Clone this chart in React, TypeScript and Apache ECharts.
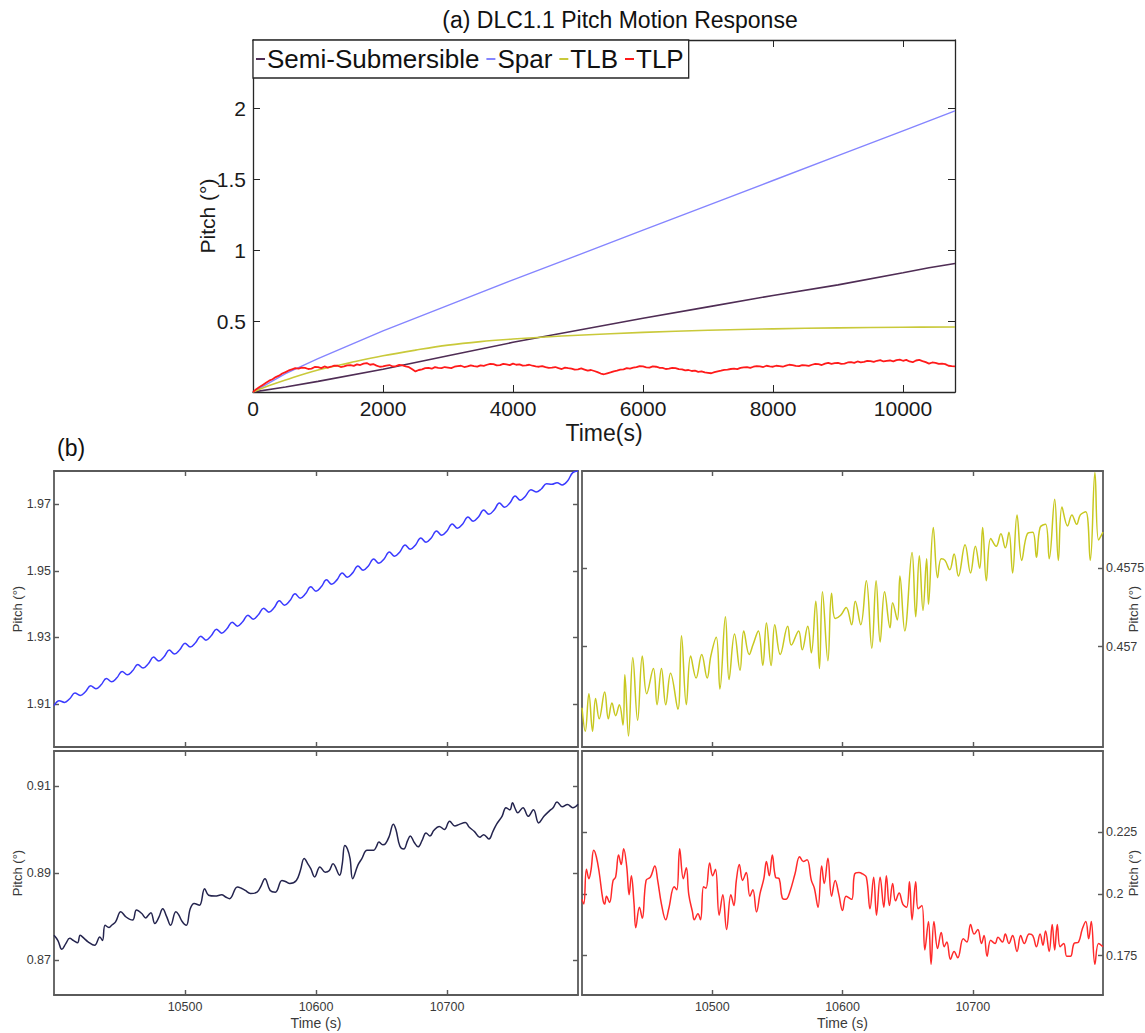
import React, { useEffect, useRef } from "react";
import * as echarts from "echarts";

const FONT = "'Liberation Sans', Arial, Helvetica, sans-serif";

// ---- (a) full 3-hour pitch histories: [time (s), pitch (deg)] ----
const semiSubmersible: [number, number][] = [
  [0, 0], [500, 0.035], [1000, 0.075], [2000, 0.16], [3000, 0.255], [4000, 0.35],
  [5000, 0.435], [6000, 0.52], [7000, 0.6], [8000, 0.68], [9000, 0.755],
  [10000, 0.84], [10400, 0.875], [10800, 0.905],
];

const spar: [number, number][] = [
  [0, 0], [500, 0.13], [1000, 0.235], [2000, 0.43], [3000, 0.61], [4000, 0.79],
  [5000, 0.965], [6000, 1.14], [7000, 1.315], [8000, 1.49], [9000, 1.665],
  [10000, 1.84], [10400, 1.91], [10800, 1.98],
];

const tlb: [number, number][] = [
  [0, 0], [250, 0.045], [500, 0.085], [1000, 0.155], [1500, 0.207], [2000, 0.255],
  [2500, 0.295], [3000, 0.33], [3500, 0.355], [4000, 0.373], [4500, 0.388],
  [5000, 0.4], [6000, 0.42], [7000, 0.435], [8000, 0.445], [9000, 0.452],
  [10000, 0.456], [10800, 0.458],
];

// TLP, sampled every 50 s
const tlpStep = 50;
const tlp: number[] = [
  0, 0.02, 0.035, 0.05, 0.065, 0.08, 0.09, 0.105, 0.115, 0.13, 0.14, 0.152, 0.16, 0.168, 0.165, 0.172,
  0.17, 0.162, 0.165, 0.176, 0.175, 0.168, 0.18, 0.172, 0.178, 0.186, 0.185, 0.176, 0.18, 0.188,
  0.19, 0.184, 0.195, 0.19, 0.2, 0.204, 0.192, 0.197, 0.186, 0.178, 0.18, 0.186, 0.19, 0.18,
  0.182, 0.191, 0.188, 0.18, 0.175, 0.16, 0.145, 0.155, 0.16, 0.168, 0.17, 0.164, 0.175, 0.17,
  0.168, 0.176, 0.172, 0.168, 0.178, 0.183, 0.185, 0.176, 0.18, 0.187, 0.182, 0.179, 0.188,
  0.184, 0.192, 0.198, 0.196, 0.188, 0.19, 0.198, 0.194, 0.189, 0.2, 0.192, 0.195, 0.186,
  0.188, 0.192, 0.185, 0.18, 0.178, 0.183, 0.176, 0.17, 0.172, 0.176, 0.168, 0.162, 0.172,
  0.168, 0.165, 0.158, 0.16, 0.166, 0.158, 0.15, 0.155, 0.148, 0.14, 0.13, 0.125, 0.132,
  0.138, 0.146, 0.15, 0.157, 0.16, 0.168, 0.165, 0.171, 0.175, 0.183, 0.18, 0.174, 0.172,
  0.18, 0.178, 0.171, 0.17, 0.162, 0.165, 0.17, 0.168, 0.161, 0.16, 0.152, 0.155, 0.148,
  0.15, 0.142, 0.145, 0.138, 0.135, 0.132, 0.14, 0.146, 0.15, 0.156, 0.158, 0.162, 0.165,
  0.161, 0.17, 0.174, 0.175, 0.17, 0.178, 0.183, 0.18, 0.176, 0.185, 0.181, 0.178, 0.185,
  0.182, 0.178, 0.186, 0.192, 0.19, 0.184, 0.182, 0.19, 0.188, 0.184, 0.192, 0.198, 0.196,
  0.19, 0.2, 0.205, 0.198, 0.203, 0.205, 0.198, 0.2, 0.208, 0.21, 0.205, 0.215, 0.209,
  0.212, 0.219, 0.218, 0.212, 0.22, 0.224, 0.215, 0.219, 0.222, 0.216, 0.225, 0.228, 0.22,
  0.226, 0.215, 0.21, 0.222, 0.226, 0.218, 0.21, 0.2, 0.208, 0.205, 0.198, 0.2, 0.196,
  0.185, 0.182, 0.18,
];

// ---- (b) last 400 s of each response ----
// Spar, sampled every 4 s from 10400 s
const windowStart = 10400;
const sparStep = 4;
const sparWindow: number[] = [
  1.9095, 1.911, 1.9105, 1.9116, 1.9133, 1.9126, 1.9137, 1.9155, 1.9146, 1.9158,
  1.9177, 1.9167, 1.9179, 1.9198, 1.9188, 1.92, 1.9219, 1.9208, 1.9221, 1.9241,
  1.9229, 1.9242, 1.9262, 1.925, 1.9263, 1.9283, 1.9271, 1.9284, 1.9304, 1.9292,
  1.9305, 1.9325, 1.9313, 1.9326, 1.9346, 1.9334, 1.9347, 1.9367, 1.9355, 1.9368,
  1.9388, 1.9376, 1.9389, 1.941, 1.9397, 1.941, 1.9431, 1.9418, 1.9431, 1.9452,
  1.9439, 1.9452, 1.9473, 1.946, 1.9473, 1.9494, 1.9481, 1.9494, 1.9515, 1.9502,
  1.9515, 1.9536, 1.9523, 1.9536, 1.9557, 1.9544, 1.9557, 1.9578, 1.9565, 1.9578,
  1.9599, 1.9586, 1.9599, 1.962, 1.9607, 1.962, 1.9641, 1.9628, 1.9641, 1.9662,
  1.9649, 1.9662, 1.9683, 1.967, 1.9683, 1.9704, 1.9691, 1.9704, 1.9725, 1.9712,
  1.9725, 1.9744, 1.9737, 1.9746, 1.9762, 1.976, 1.9765, 1.9758, 1.977, 1.9795,
  1.98,
];

const tlbWindow: [number, number][] = [
  [10400.0, 0.45661], [10402.5, 0.45646], [10405.3, 0.4567], [10408.1, 0.45646],
  [10410.4, 0.45667], [10413.2, 0.45654], [10417.4, 0.45671], [10420.2, 0.45654],
  [10423.0, 0.45664], [10425.8, 0.45656], [10428.7, 0.45663], [10431.5, 0.4565],
  [10432.9, 0.45682], [10435.7, 0.45643], [10439.0, 0.45693], [10442.7, 0.45653],
  [10446.3, 0.45694], [10449.7, 0.4567], [10454.8, 0.45686], [10457.6, 0.45663],
  [10461.0, 0.45686], [10464.3, 0.45663], [10468.0, 0.45683], [10473.6, 0.4566],
  [10476.4, 0.45707], [10480.1, 0.45663], [10483.4, 0.45694], [10487.6, 0.4568],
  [10491.9, 0.45695], [10496.1, 0.4568], [10498.9, 0.45694], [10503.1, 0.45706],
  [10505.9, 0.45673], [10510.1, 0.45719], [10512.9, 0.45679], [10517.1, 0.45708],
  [10521.3, 0.45685], [10524.2, 0.4571], [10528.4, 0.45695], [10531.2, 0.45701],
  [10535.4, 0.4571], [10538.8, 0.45688], [10541.6, 0.45715], [10545.2, 0.45688],
  [10548.0, 0.45714], [10552.2, 0.45695], [10557.9, 0.45713], [10560.7, 0.45701],
  [10566.3, 0.4571], [10569.1, 0.45698], [10573.3, 0.45713], [10576.1, 0.45696],
  [10579.5, 0.45729], [10582.3, 0.45686], [10584.6, 0.45735], [10588.8, 0.45691],
  [10591.6, 0.45734], [10594.4, 0.45718], [10598.6, 0.4572], [10602.8, 0.45725],
  [10607.0, 0.45714], [10609.8, 0.45729], [10614.0, 0.45714], [10618.3, 0.45742],
  [10622.5, 0.45699], [10625.8, 0.45742], [10628.9, 0.45703], [10632.3, 0.45735],
  [10636.5, 0.45712], [10638.5, 0.45728], [10642.1, 0.45717], [10644.1, 0.45745],
  [10647.8, 0.4571], [10653.4, 0.4576], [10656.2, 0.45719], [10659.0, 0.45758],
  [10661.8, 0.45723], [10664.6, 0.45756], [10666.0, 0.45727], [10669.7, 0.45776],
  [10673.0, 0.45744], [10675.8, 0.45756], [10678.7, 0.45755], [10682.3, 0.45749],
  [10685.7, 0.45759], [10689.0, 0.45745], [10694.1, 0.45765], [10698.3, 0.45747],
  [10702.0, 0.45764], [10705.3, 0.4575], [10707.6, 0.45776], [10710.4, 0.45742],
  [10713.8, 0.45769], [10718.0, 0.45764], [10721.6, 0.45772], [10725.0, 0.45763],
  [10727.8, 0.45773], [10730.6, 0.45747], [10734.0, 0.45784], [10737.6, 0.45755],
  [10741.9, 0.45772], [10746.1, 0.45773], [10748.9, 0.45757], [10751.7, 0.45776],
  [10755.9, 0.45778], [10758.7, 0.45756], [10762.9, 0.45794], [10765.7, 0.45755],
  [10768.5, 0.45789], [10772.8, 0.45777], [10776.1, 0.45784], [10779.8, 0.45778],
  [10782.6, 0.45784], [10786.8, 0.45786], [10790.2, 0.45755], [10793.8, 0.45811],
  [10796.6, 0.45768], [10800.0, 0.45773],
];

const semiSubWindow: [number, number][] = [
  [10400, 0.8757], [10403, 0.8745], [10406, 0.8725], [10409, 0.8738], [10412, 0.875],
  [10415, 0.8745], [10418, 0.874], [10420, 0.8757], [10423, 0.875], [10426, 0.8742],
  [10431, 0.8734], [10435, 0.8753], [10437, 0.8745], [10439, 0.878], [10442, 0.8775],
  [10444, 0.878], [10447, 0.8788], [10451, 0.8811], [10455, 0.8799], [10460, 0.8792],
  [10463, 0.8815], [10467, 0.8807], [10470, 0.8797], [10472, 0.8803], [10474, 0.8809],
  [10477, 0.8784], [10480, 0.8798], [10483, 0.8818], [10486, 0.88], [10489, 0.878],
  [10493, 0.8811], [10495, 0.8805], [10498, 0.8788], [10501, 0.878], [10504, 0.8818],
  [10507, 0.883], [10511, 0.8826], [10515, 0.8864], [10518, 0.8849], [10523, 0.8847],
  [10528, 0.885], [10531, 0.8845], [10534, 0.8841], [10540, 0.8868], [10543, 0.8865],
  [10546, 0.886], [10550, 0.8853], [10555, 0.8856], [10558, 0.887], [10561, 0.8887],
  [10565, 0.886], [10569, 0.8856], [10574, 0.8883], [10577, 0.888], [10580, 0.8876],
  [10585, 0.8883], [10588, 0.8905], [10591, 0.8933], [10594, 0.892], [10596, 0.891],
  [10599, 0.8891], [10603, 0.8914], [10607, 0.8902], [10610, 0.8905], [10613, 0.8921],
  [10618, 0.8895], [10620, 0.892], [10622, 0.8963], [10624, 0.8955], [10626, 0.8933],
  [10628, 0.8887], [10632, 0.8918], [10635, 0.8933], [10639, 0.8952], [10644, 0.8952],
  [10646, 0.896], [10648, 0.8971], [10651, 0.8965], [10653, 0.8967], [10656, 0.8985],
  [10659, 0.9012], [10661, 0.9], [10664, 0.8962], [10667, 0.8955], [10670, 0.8975],
  [10672, 0.8985], [10675, 0.897], [10678, 0.896], [10681, 0.8975], [10684, 0.8992],
  [10687, 0.8985], [10690, 0.8998], [10694, 0.9007], [10698, 0.9], [10702, 0.9019],
  [10706, 0.9008], [10709, 0.9011], [10714, 0.9016], [10717, 0.9005], [10721, 0.8995],
  [10725, 0.8982], [10728, 0.8988], [10732, 0.8978], [10735, 0.8995], [10738, 0.9013],
  [10742, 0.903], [10745, 0.905], [10748, 0.9045], [10750, 0.9061], [10752, 0.9048],
  [10754, 0.9038], [10758, 0.905], [10762, 0.903], [10766, 0.9045], [10770, 0.9015],
  [10774, 0.903], [10778, 0.9042], [10781, 0.905], [10784, 0.9063], [10788, 0.9052],
  [10792, 0.9057], [10796, 0.905], [10800, 0.9058],
];

const tlpWindow: [number, number][] = [
  [10400, 0.1978], [10401.4, 0.1959], [10403.4, 0.21], [10405.3, 0.2062], [10407, 0.21],
  [10409, 0.2177], [10411, 0.2151], [10413.2, 0.2087], [10416, 0.1978], [10417.4, 0.1959],
  [10418.8, 0.1991], [10421.1, 0.1965], [10423.9, 0.2055], [10425.8, 0.2068], [10428.1, 0.2158],
  [10430.1, 0.2119], [10432, 0.2183], [10434.3, 0.2113], [10436.2, 0.1997], [10437.9, 0.2074],
  [10439.9, 0.1965], [10441.3, 0.1863], [10444.1, 0.1946], [10446.3, 0.1901], [10449.2, 0.2055],
  [10452.5, 0.2068], [10455.9, 0.2113], [10458.1, 0.2055], [10461, 0.1959], [10464.3, 0.1895],
  [10466.6, 0.194], [10470.8, 0.2029], [10472.8, 0.2017], [10475, 0.2183], [10477.8, 0.2062],
  [10480.1, 0.2106], [10482, 0.1997], [10484.8, 0.1927], [10486.2, 0.1895], [10489, 0.192],
  [10491, 0.1895], [10493.3, 0.2029], [10495.2, 0.2023], [10498, 0.2126], [10500.3, 0.2074],
  [10502.5, 0.21], [10505.3, 0.1914], [10508.1, 0.1997], [10511, 0.1856], [10514.3, 0.1997],
  [10516.6, 0.1953], [10518.5, 0.2055], [10520.8, 0.2119], [10523.3, 0.2055], [10526.1, 0.2087],
  [10528.9, 0.1991], [10531.2, 0.2017], [10534, 0.1927], [10536.8, 0.2004], [10539.6, 0.2062],
  [10541.6, 0.2132], [10543.8, 0.2074], [10546.1, 0.2158], [10548.6, 0.2068], [10551.4, 0.2062],
  [10553.7, 0.1985], [10556.5, 0.1978], [10559.3, 0.2004], [10563.5, 0.2081], [10567.1, 0.2151],
  [10569.9, 0.2132], [10572.8, 0.2139], [10576.1, 0.2055], [10578.4, 0.2023], [10581.2, 0.1946],
  [10584, 0.2113], [10586, 0.2042], [10588.8, 0.2145], [10591.6, 0.1991], [10594.4, 0.2055],
  [10597.2, 0.1997], [10600, 0.1933], [10602.8, 0.1991], [10607, 0.1978], [10609.3, 0.2081],
  [10612.6, 0.2087], [10615.4, 0.2081], [10618.3, 0.2068], [10621.1, 0.194], [10623.9, 0.2068],
  [10626.1, 0.1914], [10628.9, 0.2068], [10631.7, 0.1946], [10633.7, 0.2074], [10636, 0.1953],
  [10638.5, 0.2042], [10640.7, 0.1972], [10643.5, 0.2004], [10646.3, 0.1959], [10649.2, 0.1946],
  [10651.4, 0.2049], [10653.4, 0.1895], [10656.2, 0.2049], [10658.1, 0.194], [10661, 0.1953],
  [10663.2, 0.1773], [10666, 0.1888], [10668, 0.1715], [10670.2, 0.1888], [10673, 0.1779],
  [10675.8, 0.1844], [10678.1, 0.1786], [10680.1, 0.1805], [10682.9, 0.1735], [10685.7, 0.1767],
  [10688.5, 0.1741], [10692.7, 0.1818], [10695.5, 0.1805], [10698.3, 0.1876], [10701.1, 0.1837],
  [10703.9, 0.1856], [10706.7, 0.1799], [10708.7, 0.1831], [10711, 0.1747], [10713.8, 0.1812],
  [10717.1, 0.1799], [10719.4, 0.1824], [10722.8, 0.1805], [10725, 0.1837], [10727.8, 0.1799],
  [10730.6, 0.1831], [10734, 0.1767], [10736.8, 0.1831], [10739.6, 0.1799], [10743.3, 0.1837],
  [10746.1, 0.1831], [10748.9, 0.1786], [10751.7, 0.1837], [10753.9, 0.1792], [10755.9, 0.185],
  [10758.7, 0.1767], [10761, 0.1876], [10762.9, 0.1773], [10764.9, 0.1876], [10767.1, 0.1786],
  [10769.9, 0.1799], [10772.2, 0.1747], [10775, 0.1747], [10777.8, 0.1799], [10781.2, 0.1805],
  [10784, 0.1856], [10786.8, 0.1888], [10789, 0.1818], [10791, 0.1888], [10793.8, 0.1715],
  [10796.6, 0.1799], [10800, 0.1786],
];

// ---- tick positions ----
const topTimeTicks = [0, 2000, 4000, 6000, 8000, 10000];
const topPitchTicks = [0.5, 1, 1.5, 2];
const windowTimeTicks = [10500, 10600, 10700];
const sparPitchTicks = [1.91, 1.93, 1.95, 1.97];
const tlbPitchTicks = [0.457, 0.4575];
const semiPitchTicks = [0.87, 0.89, 0.91];
const tlpPitchTicks = [0.175, 0.2, 0.225];

const SERIES_NAMES = ["Semi-Submersible", "Spar", "TLB", "TLP"];

type AxisStyle = {
  line: string;
  lineWidth: number;
  label: string;
  fontSize: number;
  tickLen: number;
  xMargin: number;
  yMargin: number;
};

const topStyle: AxisStyle = {
  line: "#262626", lineWidth: 1.3, label: "#1a1a1a", fontSize: 21, tickLen: 7, xMargin: 6, yMargin: 7,
};
const winStyle: AxisStyle = {
  line: "#5a5a5a", lineWidth: 1.8, label: "#3a3a3a", fontSize: 12.5, tickLen: 5, xMargin: 5, yMargin: 3,
};

const fmt = (v: number) => String(Number(v.toFixed(4)));

function axis(
  dim: "x" | "y",
  gridIndex: number,
  min: number,
  max: number,
  ticks: number[],
  st: AxisStyle,
  position: string,
  showLabel: boolean,
  name = "",
  nameGap = 0,
  nameSize = 13,
) {
  return {
    type: "value",
    gridIndex,
    min,
    max,
    position,
    axisLine: { show: true, onZero: false, lineStyle: { color: st.line, width: st.lineWidth } },
    axisTick: {
      show: true,
      inside: true,
      length: st.tickLen,
      customValues: ticks,
      lineStyle: { color: st.line, width: st.lineWidth * 0.8 },
    },
    axisLabel: {
      show: showLabel,
      customValues: ticks,
      color: st.label,
      fontSize: st.fontSize,
      fontFamily: FONT,
      margin: dim === "x" ? st.xMargin : st.yMargin,
      formatter: fmt,
    },
    splitLine: { show: false },
    name,
    nameLocation: "middle",
    nameGap,
    nameMoveOverlap: false,
    nameRotate: dim === "y" ? 90 : 0,
    nameTextStyle: { fontSize: nameSize, fontFamily: FONT, color: st.label },
  };
}

function buildOption() {
  const grids = [
    { left: 253, top: 40, width: 702, height: 352 },
    { left: 54, top: 471, width: 524, height: 276 },
    { left: 582, top: 471, width: 521, height: 276 },
    { left: 54, top: 751, width: 524, height: 244 },
    { left: 582, top: 751, width: 521, height: 244 },
  ];

  const xAxis = [
    axis("x", 0, 0, 10800, topTimeTicks, topStyle, "bottom", true, "Time(s)", 29, 23),
    axis("x", 0, 0, 10800, topTimeTicks, topStyle, "top", false),
    axis("x", 1, 10400, 10800, windowTimeTicks, winStyle, "bottom", false),
    axis("x", 1, 10400, 10800, windowTimeTicks, winStyle, "top", false),
    axis("x", 2, 10400, 10800, windowTimeTicks, winStyle, "bottom", false),
    axis("x", 2, 10400, 10800, windowTimeTicks, winStyle, "top", false),
    axis("x", 3, 10400, 10800, windowTimeTicks, winStyle, "bottom", true, "Time (s)", 21, 14),
    axis("x", 3, 10400, 10800, windowTimeTicks, winStyle, "top", false),
    axis("x", 4, 10400, 10800, windowTimeTicks, winStyle, "bottom", true, "Time (s)", 21, 14),
    axis("x", 4, 10400, 10800, windowTimeTicks, winStyle, "top", false),
  ];

  const yAxis = [
    axis("y", 0, 0, 2.48, topPitchTicks, topStyle, "left", true, "Pitch (°)", 35, 21),
    axis("y", 0, 0, 2.48, topPitchTicks, topStyle, "right", false),
    axis("y", 1, 1.8971, 1.98, sparPitchTicks, winStyle, "left", true, "Pitch (°)", 30, 13),
    axis("y", 1, 1.8971, 1.98, sparPitchTicks, winStyle, "right", false),
    axis("y", 2, 0.45636, 0.45812, tlbPitchTicks, winStyle, "right", true, "Pitch (°)", 24, 13),
    axis("y", 2, 0.45636, 0.45812, tlbPitchTicks, winStyle, "left", false),
    axis("y", 3, 0.862, 0.918, semiPitchTicks, winStyle, "left", true, "Pitch (°)", 30, 13),
    axis("y", 3, 0.862, 0.918, semiPitchTicks, winStyle, "right", false),
    axis("y", 4, 0.159, 0.258, tlpPitchTicks, winStyle, "right", true, "Pitch (°)", 24, 13),
    axis("y", 4, 0.159, 0.258, tlpPitchTicks, winStyle, "left", false),
  ];

  const line = (
    name: string,
    data: [number, number][],
    color: string,
    idx: number,
    width: number,
    smooth: number | boolean = false,
  ) => ({
    name,
    type: "line",
    xAxisIndex: idx,
    yAxisIndex: idx,
    data,
    color,
    showSymbol: false,
    smooth,
    lineStyle: { color, width },
    emphasis: { disabled: true },
  });

  const tlpPairs: [number, number][] = tlp.map((v, i) => [i * tlpStep, v]);
  const sparWindowPairs: [number, number][] = sparWindow.map((v, i) => [
    windowStart + i * sparStep,
    v,
  ]);

  return {
    animation: false,
    backgroundColor: "#ffffff",
    // fixed panel rectangles; labels and names are allowed to sit outside them
    grid: grids.map((g) => ({ ...g, containLabel: false, outerBoundsMode: "none" })),
    xAxis,
    yAxis,
    legend: {
      data: SERIES_NAMES,
      left: 253,
      top: 40,
      orient: "horizontal",
      icon: "rect",
      itemWidth: 9,
      itemHeight: 2,
      itemGap: 7,
      padding: [6, 5, 6, 3],
      borderColor: "#262626",
      borderWidth: 1.3,
      backgroundColor: "#ffffff",
      textStyle: { fontSize: 26, fontFamily: FONT, color: "#111", padding: [0, 0, 0, -3] },
    },
    graphic: [
      {
        type: "text",
        x: 620,
        y: 20,
        style: {
          text: "(a) DLC1.1 Pitch Motion Response",
          font: `23px ${FONT}`,
          fill: "#111",
          align: "center",
          verticalAlign: "middle",
        },
      },
      {
        type: "text",
        x: 57,
        y: 448,
        style: {
          text: "(b)",
          font: `23px ${FONT}`,
          fill: "#111",
          align: "left",
          verticalAlign: "middle",
        },
      },
    ],
    series: [
      line("Semi-Submersible", semiSubmersible, "#4f2d55", 0, 1.6),
      line("Spar", spar, "#8585ff", 0, 1.4),
      line("TLB", tlb, "#c9c93a", 0, 1.6, 0.4),
      line("TLP", tlpPairs, "#ff1a1a", 0, 1.8),
      line("Spar window", sparWindowPairs, "#3a3aff", 2, 1.5, 0.4),
      line("TLB window", tlbWindow, "#c8c820", 4, 1.5, 0.4),
      line("Semi-Submersible window", semiSubWindow, "#24244e", 6, 1.5, 0.4),
      line("TLP window", tlpWindow, "#ff2a2a", 8, 1.5, 0.4),
    ],
  };
}

export default function App() {
  const ref = useRef<HTMLDivElement>(null);
  useEffect(() => {
    document.body.style.margin = "0";
    const chart = echarts.init(ref.current!, null, { renderer: "svg" });
    chart.setOption(buildOption() as any);
    return () => chart.dispose();
  }, []);
  return <div ref={ref} style={{ width: 1145, height: 1033, background: "#fff" }} />;
}
